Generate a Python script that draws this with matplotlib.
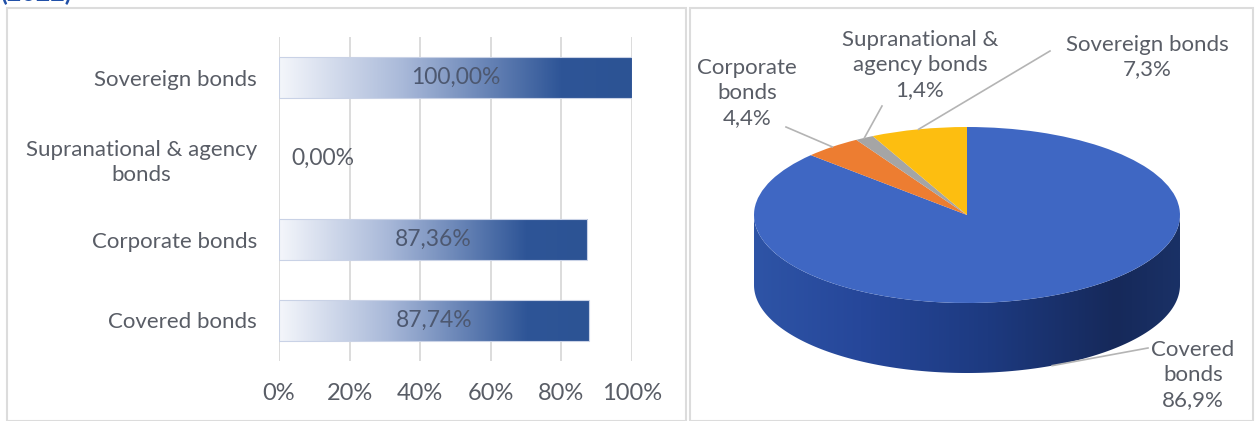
import matplotlib.pyplot as plt
import numpy as np
from matplotlib.colors import LinearSegmentedColormap
from matplotlib.patches import Rectangle, Polygon

# bar chart data (bottom to top)
bar_categories = ["Covered bonds", "Corporate bonds", "Supranational & agency\nbonds", "Sovereign bonds"]
bar_values = [87.74, 87.36, 0.00, 100.00]
bar_ticks = [0, 20, 40, 60, 80, 100]

# pie chart data (clockwise from 12 o'clock)
pie_labels = ["Covered\nbonds", "Corporate\nbonds", "Supranational &\nagency bonds", "Sovereign bonds"]
pie_values = [86.9, 4.4, 1.4, 7.3]
pie_colors = ["#3F67C3", "#ED7D31", "#A5A5A5", "#FDBE10"]

W, H = 1256, 421
FONT = "Lato"
TXT = "#595d66"
FS = 16

fig = plt.figure(figsize=(W / 100, H / 100), dpi=100)
fig.patch.set_facecolor("white")


def fx(px):
    return px / W


def fy(py):
    return 1 - py / H


# panel frames
fig.add_artist(Rectangle((fx(7), fy(421)), fx(679), fy(8) - fy(421), transform=fig.transFigure,
                         fill=False, edgecolor="#dcdcdc", linewidth=1.5))
fig.add_artist(Rectangle((fx(690), fy(421)), fx(563), fy(8) - fy(421), transform=fig.transFigure,
                         fill=False, edgecolor="#dcdcdc", linewidth=1.5))
# title of the source page, cut off at the top edge as in the original screenshot
fig.text(fx(0), fy(1.5), "(2022)", color="#2150a8", fontsize=18, fontweight="bold",
         family=FONT, va="baseline", ha="left")

# ---- left: horizontal bars with gradient fill ----
ax1 = fig.add_axes([fx(279), fy(361), fx(632) - fx(279), fy(37) - fy(361)])
ypos = np.arange(len(bar_categories))
bars = ax1.barh(ypos, bar_values, height=0.5, color="none", edgecolor="none")
grad_cmap = LinearSegmentedColormap.from_list(
    "bar", [(0, "#f4f6fb"), (0.35, "#a9b9d9"), (0.8, "#2e5597"), (1, "#2c5394")])
grad = np.linspace(0, 1, 256).reshape(1, -1)
for b in bars:
    if b.get_width() <= 0:
        continue
    im = ax1.imshow(grad, cmap=grad_cmap, aspect="auto", zorder=2,
                    extent=[b.get_x(), b.get_x() + b.get_width(), b.get_y(), b.get_y() + b.get_height()])
    im.set_clip_path(b)
    ax1.add_patch(Rectangle((b.get_x(), b.get_y()), b.get_width(), b.get_height(),
                            fill=False, edgecolor="#c9d2e6", linewidth=0.8, zorder=3))

for y, v in zip(ypos, bar_values):
    lab = f"{v:.2f}".replace(".", ",") + "%"
    if v > 0:
        ax1.text(v / 2, y, lab, ha="center", va="center", fontsize=FS + 0.5, color="#4d5870",
                 family=FONT, zorder=4)
    else:
        ax1.text(3.5, y, lab, ha="left", va="center", fontsize=FS + 0.5, color=TXT,
                 family=FONT, zorder=4)

ax1.set_xlim(0, 100)
ax1.set_ylim(-0.5, len(bar_categories) - 0.5)
ax1.set_xticks(bar_ticks)
ax1.set_xticklabels([f"{t}%" for t in bar_ticks], fontsize=FS + 1, color=TXT, family=FONT)
ax1.set_yticks(ypos)
ax1.set_yticklabels(bar_categories, fontsize=FS, color=TXT, family=FONT,
                    multialignment="center", linespacing=1.3)
ax1.tick_params(axis="x", length=0, pad=16)
ax1.tick_params(axis="y", length=0, pad=16)
ax1.grid(axis="x", color="#d9d9d9", linewidth=1.3, zorder=0)
ax1.set_axisbelow(True)
for s in ax1.spines.values():
    s.set_visible(False)

# ---- right: pseudo 3D pie ----
cx, cy, rx, ry, depth = 967, 215, 213, 88, 70
ax2 = fig.add_axes([fx(690), 0, fx(566), 1])
ax2.axis("off")


def to_data(px, py):
    return (px - cx) / rx, (cy - py) / ry


d = depth / ry
t = np.linspace(np.pi, 2 * np.pi, 200)
side_pts = np.vstack([np.column_stack([np.cos(t), np.sin(t)]),
                      np.column_stack([np.cos(t[::-1]), np.sin(t[::-1]) - d])])
side = Polygon(side_pts, closed=True, facecolor="none", edgecolor="none")
ax2.add_patch(side)
side_cmap = LinearSegmentedColormap.from_list(
    "side", [(0, "#2e54a6"), (0.25, "#26479a"), (0.55, "#1d3a80"), (0.85, "#16295a"), (1, "#1a3166")])
sim = ax2.imshow(grad, cmap=side_cmap, aspect="auto", extent=[-1, 1, -1 - d, 0], zorder=1)
sim.set_clip_path(side)

wedges, _ = ax2.pie(pie_values, colors=pie_colors, startangle=90, counterclock=False,
                    radius=1, wedgeprops=dict(linewidth=0))
for w in wedges:
    w.set_zorder(2)
ax2.set_aspect("auto")
x0, y1 = to_data(690, 0)
x1, y0 = to_data(1256, 421)
ax2.set_xlim(x0, x1)
ax2.set_ylim(y0, y1)

# labels and leader lines
label_pos = [(1193, 375), (747, 93), (920, 65), (1147, 57)]
line_start = [(1148, 348), (786, 127), (882, 106), (1050, 51)]
for w, lab, v, (lx, ly), (sx, sy) in zip(wedges, pie_labels, pie_values, label_pos, line_start):
    txt = lab + "\n" + f"{v:.1f}".replace(".", ",") + "%"
    tx, ty = to_data(lx, ly)
    ax2.text(tx, ty, txt, ha="center", va="center", fontsize=FS, color=TXT, family=FONT,
             linespacing=1.3, zorder=5)
    mid = np.deg2rad((w.theta1 + w.theta2) / 2)
    ax_, ay_ = np.cos(mid), np.sin(mid)
    if ay_ < 0:
        ay_ -= d
    sx_, sy_ = to_data(sx, sy)
    ax2.plot([sx_, ax_], [sy_, ay_], color="#b4b4b4", linewidth=1.2, zorder=4)

fig.savefig("out.png", dpi=100)
